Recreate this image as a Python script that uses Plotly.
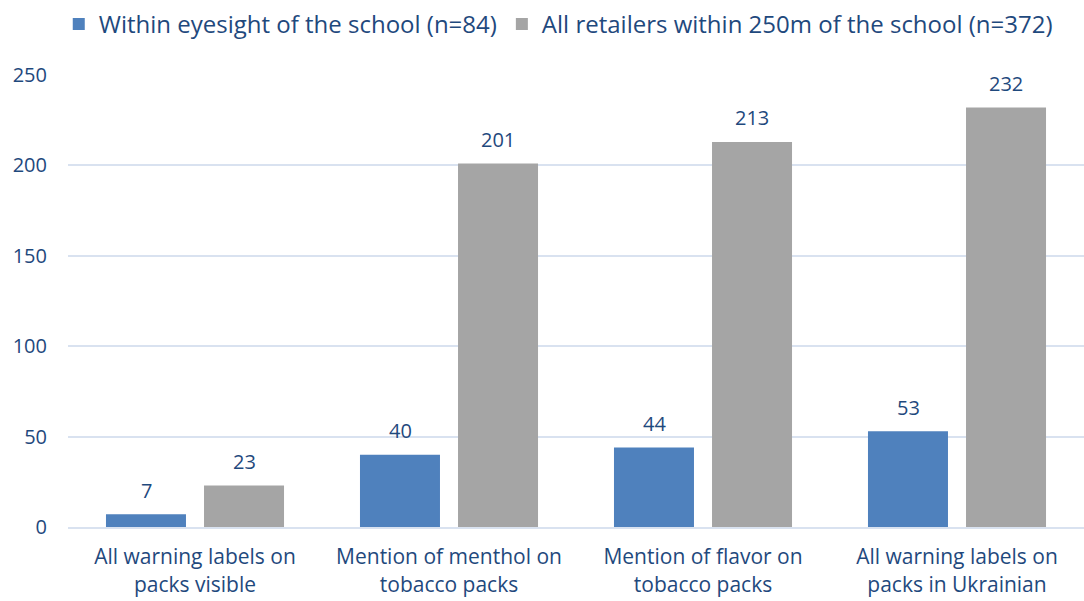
import plotly.graph_objects as go

categories = ["All warning labels on<br>packs visible",
              "Mention of menthol on<br>tobacco packs",
              "Mention of flavor on<br>tobacco packs",
              "All warning labels on<br>packs in Ukrainian"]
within_eyesight = [7, 40, 44, 53]
all_retailers = [23, 201, 213, 232]
series_names = ["Within eyesight of the school (n=84)",
                "All retailers within 250m of the school (n=372)"]

text_color = "#1F497D"
font_family = "Open Sans"

fig = go.Figure()
fig.add_trace(go.Bar(x=categories, y=within_eyesight, name=series_names[0],
                     marker=dict(color="#4F81BD", line=dict(width=0))))
fig.add_trace(go.Bar(x=categories, y=all_retailers, name=series_names[1],
                     marker=dict(color="#A5A5A5", line=dict(width=0))))

# data labels above bars
for vals, shift in ((within_eyesight, -49), (all_retailers, 49)):
    for c, v in zip(categories, vals):
        fig.add_annotation(x=c, y=v, text=str(v), showarrow=False,
                           xshift=shift, yshift=24, yanchor="middle",
                           font=dict(size=20, color=text_color, family=font_family))

fig.update_layout(
    width=1084, height=601,
    margin=dict(l=68, r=0, t=75, b=74, autoexpand=False),
    paper_bgcolor="white", plot_bgcolor="white",
    barmode="group", bargap=0.228, bargroupgap=0.184,
    font=dict(family=font_family, color=text_color, size=20),
    legend=dict(orientation="h", x=0.515, xanchor="center", xref="container",
                y=0.997, yref="container", yanchor="top",
                font=dict(size=24, color=text_color), traceorder="normal",
                itemwidth=30, tracegroupgap=0),
    xaxis=dict(tickfont=dict(size=21, color=text_color), showline=True,
               linecolor="#D9E2F0", linewidth=2, ticks="", ticklabelstandoff=10),
    yaxis=dict(range=[0, 250], dtick=50, tickfont=dict(size=20, color=text_color),
               showgrid=True, gridcolor="#D9E2F0", gridwidth=2, zeroline=False,
               ticks="", ticklabelstandoff=20),
    showlegend=True,
)
fig.write_html("out.html")
